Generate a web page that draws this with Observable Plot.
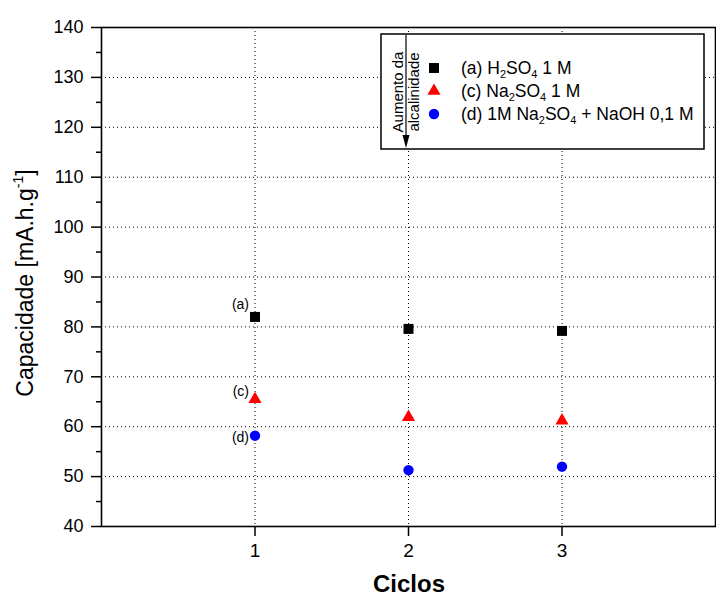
<!DOCTYPE html>
<html><head><meta charset="utf-8">
<script src="https://cdn.jsdelivr.net/npm/d3@7"></script>
<script src="https://cdn.jsdelivr.net/npm/@observablehq/plot@0.6"></script>
<style>body{margin:0;background:#fff} svg{display:block}</style>
</head><body><div id="chart"></div>
<script>
// ---- data ----
const cycles = [1, 2, 3];
const seriesA = [82.0, 79.6, 79.2];   // (a) H2SO4 1 M
const seriesC = [65.5, 61.9, 61.2];   // (c) Na2SO4 1 M
const seriesD = [58.2, 51.3, 52.0];   // (d) 1M Na2SO4 + NaOH 0,1 M
const seriesTags = ["(a)", "(c)", "(d)"];
const xTicks = [1, 2, 3];
const yTicks = [40, 50, 60, 70, 80, 90, 100, 110, 120, 130, 140];
const yMinor = [45, 55, 65, 75, 85, 95, 105, 115, 125, 135];
const legendRows = [
  [["(a) H", 0], ["2", 1], ["SO", 0], ["4", 1], [" 1 M", 0]],
  [["(c) Na", 0], ["2", 1], ["SO", 0], ["4", 1], [" 1 M", 0]],
  [["(d) 1M Na", 0], ["2", 1], ["SO", 0], ["4", 1], [" + NaOH 0,1 M", 0]]
];
const legendArrowText = ["Aumento da", "alcalinidade"];
const xLabel = "Ciclos";
const yLabel = ["Capacidade [mA.h.g", "-1", "]"];

const FONT = "'Liberation Sans', Arial, sans-serif";
const mk = (vals) => cycles.map((c, i) => ({c, v: vals[i]}));
const dA = mk(seriesA), dC = mk(seriesC), dD = mk(seriesD);

const svg = Plot.plot({
  width: 716, height: 598,
  marginTop: 27, marginRight: 1, marginBottom: 72, marginLeft: 101,
  style: {fontFamily: FONT, background: "white", color: "black"},
  x: {domain: [0, 4]},
  y: {domain: [40, 140]},
  marks: [
    Plot.gridX(xTicks, {stroke: "black", strokeOpacity: 1, strokeDasharray: "1,3"}),
    Plot.gridY(yTicks.slice(1, -1), {stroke: "black", strokeOpacity: 1, strokeDasharray: "1,3"}),
    Plot.axisX({ticks: xTicks, tickFormat: d => String(d), tickSize: 10, tickPadding: 7, fontSize: 19, label: null, strokeWidth: 1.5}),
    Plot.axisY({ticks: yTicks, tickFormat: d => String(d), tickSize: 10, tickPadding: 8, fontSize: 18, label: null, strokeWidth: 1.5}),
    Plot.axisY({ticks: yMinor, tickSize: 5, text: null, label: null, strokeWidth: 1.5}),
    Plot.frame({stroke: "black", strokeWidth: 1.6}),
    Plot.dot(dA, {x: "c", y: "v", symbol: "square", r: 5.64, fill: "black"}),
    Plot.dot(dC, {x: "c", y: "v", symbol: "triangle", r: 4.9, fill: "#ff0000"}),
    Plot.dot(dD, {x: "c", y: "v", symbol: "circle", r: 5.2, fill: "#0000ff"}),
    Plot.text([dA[0]], {x: "c", y: "v", text: () => seriesTags[0], dx: -6, dy: -12, textAnchor: "end", fontSize: 14, fill: "black"}),
    Plot.text([dC[0]], {x: "c", y: "v", text: () => seriesTags[1], dx: -6, dy: -8, textAnchor: "end", fontSize: 14, fill: "black"}),
    Plot.text([dD[0]], {x: "c", y: "v", text: () => seriesTags[2], dx: -6, dy: 2, textAnchor: "end", fontSize: 14, fill: "black"})
  ]
});
document.getElementById("chart").appendChild(svg);

const s = d3.select(svg);
// axis titles
s.append("text").attr("x", 409).attr("y", 592).attr("text-anchor", "middle")
  .attr("font-family", FONT).attr("font-size", 24).attr("font-weight", "bold").text(xLabel);
const yl = s.append("text").attr("transform", "translate(33,283) rotate(-90)")
  .attr("text-anchor", "middle").attr("font-family", FONT).attr("font-size", 23);
yl.append("tspan").text(yLabel[0]);
yl.append("tspan").attr("font-size", 14).attr("dy", -10).text(yLabel[1]);
yl.append("tspan").attr("dy", 10).text(yLabel[2]);

// legend
const lg = s.append("g").attr("font-family", FONT).attr("text-anchor", "start");
lg.append("rect").attr("x", 381).attr("y", 34).attr("width", 323).attr("height", 115)
  .attr("fill", "white").attr("stroke", "black").attr("stroke-width", 1.5);
lg.append("text").attr("transform", "translate(403,92) rotate(-90)").attr("text-anchor", "middle")
  .attr("font-size", 15).text(legendArrowText[0]);
lg.append("text").attr("transform", "translate(419,92) rotate(-90)").attr("text-anchor", "middle")
  .attr("font-size", 15).text(legendArrowText[1]);
lg.append("line").attr("x1", 406).attr("x2", 406).attr("y1", 35).attr("y2", 138)
  .attr("stroke", "black").attr("stroke-width", 1.2);
lg.append("path").attr("d", "M406,148L402.5,135L409.5,135Z").attr("fill", "black");

const symDefs = [
  {type: d3.symbolSquare, size: 5.64 * 5.64 * Math.PI, fill: "black"},
  {type: d3.symbolTriangle, size: 4.9 * 4.9 * Math.PI, fill: "#ff0000"},
  {type: d3.symbolCircle, size: 5.2 * 5.2 * Math.PI, fill: "#0000ff"}
];
const rowY = [68, 91, 114];
legendRows.forEach((row, i) => {
  lg.append("path").attr("transform", `translate(434,${rowY[i]})`)
    .attr("d", d3.symbol(symDefs[i].type, symDefs[i].size)()).attr("fill", symDefs[i].fill);
  const t = lg.append("text").attr("x", 461).attr("y", rowY[i] + 6).attr("font-size", 17.5)
    .attr("text-anchor", "start");
  let shifted = false;
  row.forEach(([str, sub]) => {
    const sp = t.append("tspan").text(str);
    if (sub && !shifted) { sp.attr("dy", 4).attr("font-size", 11); shifted = true; }
    else if (sub) { sp.attr("font-size", 11); }
    else if (shifted) { sp.attr("dy", -4); shifted = false; }
  });
});
</script></body></html>
